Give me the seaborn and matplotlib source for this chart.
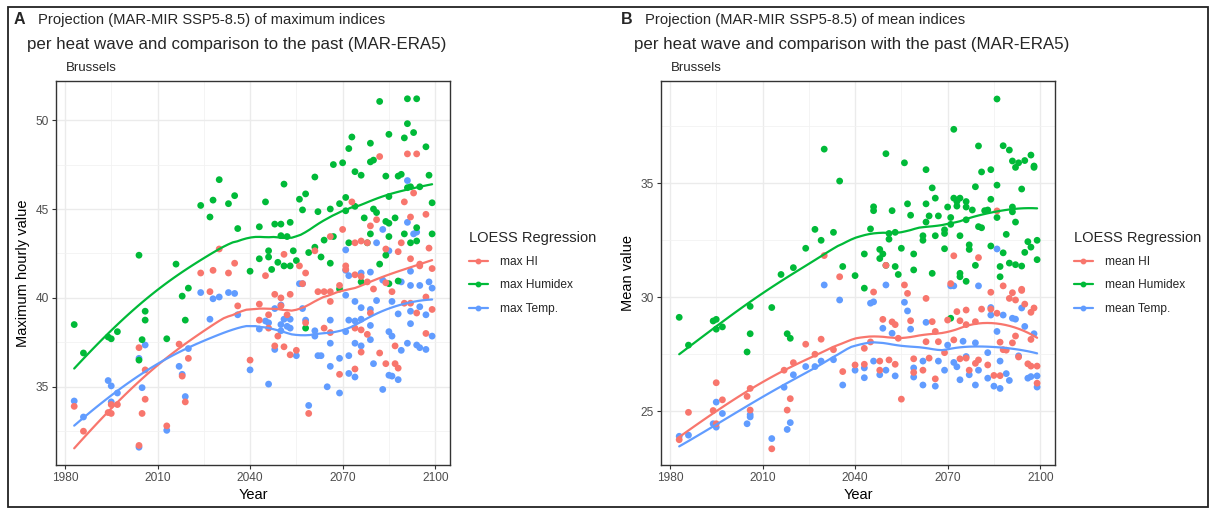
import numpy as np
import pandas as pd
import matplotlib
matplotlib.use("Agg")
import matplotlib.pyplot as plt
import seaborn as sns
from matplotlib.lines import Line2D
from matplotlib.patches import Rectangle
from matplotlib.ticker import FixedLocator

sns.set_theme(style="whitegrid")
plt.rcParams['font.family'] = ['Liberation Sans', 'DejaVu Sans']

RED = "#F8766D"
GREEN = "#00BA38"
BLUE = "#619CFF"

# ---------------- Panel A : maximum indices ----------------
a_hum_year = [1983, 1986, 1994, 1995, 1997, 2004, 2004, 2005, 2006, 2006, 2013, 2016, 2018, 2019, 2020,
              2024, 2027, 2028, 2030, 2033, 2035, 2036, 2040, 2043, 2043, 2045, 2046, 2046, 2047, 2048,
              2049, 2050, 2050, 2051, 2051, 2052, 2053, 2053, 2054, 2055, 2056, 2057, 2058, 2058, 2059,
              2061, 2061, 2062, 2063, 2064, 2066, 2066, 2067, 2067, 2069, 2069, 2070, 2071, 2071, 2072,
              2072, 2073, 2074, 2074, 2076, 2076, 2077, 2078, 2079, 2079, 2079, 2080, 2080, 2081, 2082,
              2082, 2084, 2084, 2084, 2085, 2085, 2085, 2085, 2085, 2087, 2088, 2088, 2089, 2090, 2090,
              2091, 2091, 2091, 2092, 2092, 2093, 2094, 2094, 2094, 2095, 2097, 2098, 2099, 2099]
a_hum_val = [38.5, 36.9, 37.8, 37.7, 38.1, 42.4, 36.5, 37.65, 39.25, 38.75, 37.7, 41.9, 40.1, 38.75, 40.55,
             45.2, 44.55, 45.5, 46.65, 45.3, 45.75, 43.9, 41.5, 44.0, 42.2, 45.4, 42.65, 42.3, 41.6, 44.15,
             42.0, 44.15, 43.5, 46.4, 41.8, 43.45, 44.25, 41.8, 42.65, 42.1, 45.55, 44.95, 45.85, 38.3, 42.55,
             46.8, 42.85, 44.85, 42.3, 43.25, 45.0, 41.95, 47.5, 43.45, 45.3, 40.5, 47.6, 44.9, 45.65, 48.4,
             43.1, 49.05, 47.1, 45.15, 46.9, 40.9, 44.5, 43.1, 48.7, 47.65, 43.6, 45.0, 47.75, 44.8, 51.05,
             41.9, 46.85, 44.3, 42.4, 40.8, 49.2, 45.7, 44.2, 43.45, 44.5, 46.85, 40.95, 46.95, 49.0, 43.6,
             51.2, 49.8, 46.2, 46.25, 43.1, 49.3, 51.2, 43.2, 43.95, 46.25, 48.5, 46.9, 43.6, 45.35]

a_hi_year = [1983, 1986, 1994, 1995, 1995, 1997, 2004, 2004, 2005, 2006, 2006, 2013, 2017, 2018, 2019, 2020,
             2024, 2027, 2028, 2030, 2033, 2035, 2036, 2040, 2043, 2043, 2045, 2046, 2046, 2048, 2048,
             2049, 2050, 2050, 2051, 2051, 2052, 2053, 2053, 2055, 2056, 2057, 2058, 2058, 2059, 2061,
             2062, 2064, 2064, 2066, 2066, 2066, 2066, 2069, 2069, 2070, 2071, 2071, 2073, 2074, 2074,
             2074, 2074, 2076, 2076, 2076, 2076, 2078, 2078, 2078, 2079, 2079, 2080, 2081, 2082, 2082,
             2084, 2084, 2084, 2086, 2087, 2087, 2088, 2088, 2089, 2090, 2090, 2091, 2092, 2092, 2092,
             2093, 2094, 2094, 2095, 2095, 2097, 2097, 2097, 2098, 2099, 2099]
a_hi_val = [33.9, 32.5, 33.55, 34.0, 33.5, 34.0, 37.2, 31.7, 33.5, 35.95, 34.3, 32.8, 37.4, 35.6, 34.15, 36.6,
            41.4, 40.35, 41.55, 42.75, 41.4, 41.95, 39.55, 36.5, 39.65, 38.75, 41.25, 39.05, 38.3, 40.2, 37.3,
            37.85, 40.0, 39.55, 42.45, 37.25, 39.05, 40.2, 36.8, 37.05, 41.8, 40.8, 41.4, 38.6, 33.5, 42.65,
            40.35, 40.35, 38.3, 43.45, 40.35, 39.8, 38.05, 40.7, 35.7, 43.85, 41.8, 41.6, 45.4, 43.1, 41.3,
            38.3, 36.0, 43.2, 41.2, 38.2, 36.95, 43.1, 40.9, 37.95, 44.05, 39.15, 40.5, 44.4, 47.95, 36.9,
            42.75, 40.85, 36.3, 40.35, 37.3, 36.3, 42.6, 36.05, 43.1, 45.4, 39.7, 48.1, 44.55, 42.2, 39.7,
            45.9, 48.1, 39.15, 41.9, 41.8, 44.7, 40.05, 38.0, 42.8, 41.65, 39.35]

a_temp_year = [1983, 1986, 1994, 1995, 1995, 1997, 2004, 2004, 2005, 2006, 2013, 2017, 2018, 2019, 2020,
               2024, 2027, 2028, 2030, 2033, 2035, 2036, 2040, 2043, 2045, 2046, 2046, 2048, 2048, 2050,
               2050, 2050, 2051, 2052, 2053, 2053, 2055, 2056, 2057, 2057, 2058, 2059, 2061, 2061, 2062,
               2063, 2065, 2066, 2066, 2066, 2069, 2069, 2071, 2071, 2071, 2071, 2072, 2072, 2072, 2072,
               2074, 2074, 2074, 2074, 2076, 2076, 2076, 2076, 2079, 2079, 2079, 2079, 2080, 2081, 2081,
               2083, 2083, 2083, 2085, 2085, 2085, 2086, 2086, 2086, 2088, 2088, 2089, 2089, 2091, 2091,
               2091, 2092, 2092, 2092, 2092, 2093, 2094, 2094, 2095, 2095, 2095, 2097, 2097, 2098, 2099, 2099]
a_temp_val = [34.2, 33.3, 35.35, 35.05, 34.15, 34.65, 36.6, 31.6, 34.95, 37.35, 32.55, 36.15, 35.7, 34.45, 37.15,
              40.3, 38.8, 39.95, 40.05, 40.3, 40.25, 39.05, 35.95, 38.25, 38.7, 38.6, 35.15, 39.4, 37.1, 39.6,
              38.5, 38.15, 38.8, 38.4, 38.8, 38.3, 36.75, 40.8, 40.8, 39.4, 38.75, 33.95, 38.15, 37.85, 36.75,
              36.75, 35.0, 38.75, 37.45, 36.15, 36.6, 34.65, 42.7, 41.55, 40.15, 38.1, 41.25, 38.75, 36.75, 35.75,
              39.8, 38.7, 37.45, 35.55, 41.4, 39.45, 38.8, 37.3, 41.45, 39.35, 38.45, 37.65, 36.3, 43.1, 39.85,
              43.85, 41.0, 34.85, 42.65, 38.1, 35.65, 39.8, 37.85, 35.6, 39.1, 35.4, 40.9, 37.05, 46.6, 44.25,
              37.45, 41.5, 40.7, 39.25, 38.55, 43.6, 43.7, 37.35, 40.7, 39.5, 37.2, 39.05, 37.1, 40.9, 40.55, 37.85]

# ---------------- Panel B : mean indices ----------------
b_hum_year = [1983, 1986, 1994, 1995, 1995, 1997, 2005, 2006, 2006, 2013, 2016, 2018, 2019, 2020,
              2024, 2027, 2029, 2030, 2033, 2035, 2036, 2040, 2043, 2043, 2045, 2046, 2046, 2048, 2048,
              2049, 2050, 2050, 2051, 2051, 2052, 2053, 2053, 2054, 2055, 2056, 2057, 2058, 2059, 2059,
              2062, 2062, 2063, 2063, 2063, 2064, 2065, 2065, 2066, 2066, 2067, 2069, 2069, 2069, 2070,
              2071, 2071, 2071, 2072, 2072, 2073, 2073, 2074, 2074, 2074, 2074, 2076, 2076, 2076, 2076,
              2077, 2078, 2077, 2079, 2079, 2080, 2080, 2081, 2081, 2082, 2083, 2084, 2084, 2084, 2086,
              2086, 2086, 2087, 2087, 2088, 2088, 2089, 2090, 2090, 2091, 2091, 2091, 2092, 2092, 2092,
              2093, 2094, 2094, 2095, 2095, 2096, 2097, 2097, 2098, 2098, 2099, 2099]
b_hum_val = [29.12, 27.9, 28.96, 29.03, 28.6, 28.7, 27.6, 29.6, 28.4, 29.55, 31.0, 28.4, 28.2, 31.3,
             32.15, 32.98, 32.5, 36.5, 32.85, 35.1, 31.35, 30.95, 31.9, 30.4, 33.0, 33.97, 33.8, 32.1, 31.7,
             31.9, 36.3, 31.4, 32.8, 32.55, 33.8, 32.85, 31.35, 31.0, 32.15, 35.9, 34.1, 33.6, 31.9, 31.2,
             32.5, 32.7, 35.6, 34.1, 33.3, 33.57, 34.8, 31.05, 34.35, 32.7, 33.57, 32.13, 32.8, 32.96, 33.96,
             33.5, 33.2, 29.08, 37.37, 34.35, 34.2, 34.0, 34.35, 32.7, 30.9, 31.05, 34.2, 33.96, 33.4, 30.7,
             32.3, 33.83, 32.1, 31.4, 34.85, 36.64, 33.1, 35.5, 33.05, 33.8, 33.83, 35.6, 34.3, 32.25, 38.7,
             34.92, 33.5, 31.35, 30.9, 36.65, 31.95, 32.76, 36.46, 31.5, 33.96, 33.75, 35.98, 33.3, 31.43, 35.7,
             35.9, 34.75, 31.37, 36.0, 31.97, 32.44, 36.24, 32.2, 35.7, 35.76, 32.5, 31.65]

b_hi_year = [1983, 1986, 1994, 1995, 1995, 1997, 2005, 2006, 2006, 2013, 2017, 2018, 2019, 2020,
             2024, 2027, 2029, 2030, 2033, 2035, 2036, 2040, 2043, 2043, 2045, 2046, 2048, 2048, 2049,
             2050, 2051, 2052, 2053, 2053, 2054, 2055, 2056, 2057, 2058, 2059, 2059, 2062, 2063, 2063,
             2064, 2065, 2066, 2066, 2067, 2069, 2070, 2071, 2072, 2072, 2073, 2074, 2074, 2076, 2076,
             2076, 2077, 2079, 2079, 2080, 2080, 2081, 2083, 2084, 2084, 2085, 2086, 2086, 2087, 2087,
             2088, 2088, 2089, 2090, 2091, 2091, 2092, 2092, 2093, 2094, 2094, 2095, 2096, 2097, 2097,
             2097, 2098, 2099, 2099]
b_hi_val = [23.75, 24.95, 25.03, 26.25, 24.45, 25.5, 25.65, 26.0, 25.05, 23.35, 26.8, 25.05, 25.55, 27.13,
            27.94, 27.5, 28.16, 31.83, 27.7, 30.9, 26.74, 27.03, 27.76, 27.06, 28.04, 30.23, 27.2, 26.8, 29.03,
            31.4, 27.25, 28.92, 28.8, 27.06, 28.2, 25.53, 30.54, 30.17, 28.97, 27.3, 26.7, 26.8, 29.95, 28.05,
            27.33, 28.93, 28.5, 26.42, 28.05, 27.57, 29.0, 30.6, 31.82, 28.13, 29.37, 28.97, 27.3, 29.44, 28.8,
            27.33, 26.8, 28.93, 27.1, 27.25, 31.74, 29.48, 27.03, 30.22, 29.48, 26.57, 29.3, 33.79, 28.03, 26.56,
            27.7, 30.5, 27.68, 29.95, 30.2, 28.0, 29.88, 28.3, 27.38, 30.35, 30.3, 29.7, 27.08, 29.34, 28.15,
            26.98, 29.53, 26.98, 26.23]

b_temp_year = [1983, 1986, 1994, 1995, 1995, 1997, 2005, 2006, 2006, 2013, 2017, 2018, 2019, 2020,
               2024, 2027, 2029, 2030, 2033, 2035, 2036, 2040, 2043, 2043, 2045, 2046, 2046, 2048, 2049,
               2050, 2050, 2052, 2053, 2056, 2057, 2058, 2059, 2059, 2062, 2062, 2063, 2066, 2067, 2069,
               2070, 2071, 2072, 2072, 2073, 2074, 2075, 2076, 2077, 2079, 2079, 2080, 2080, 2083, 2083,
               2084, 2084, 2085, 2086, 2086, 2087, 2087, 2088, 2089, 2090, 2091, 2092, 2093, 2094, 2095,
               2096, 2097, 2098, 2099, 2099]
b_temp_val = [23.9, 23.95, 24.45, 25.4, 24.3, 24.9, 24.45, 24.85, 24.75, 23.8, 26.05, 24.2, 24.5, 26.6,
              26.96, 26.96, 27.2, 30.54, 27.26, 29.88, 26.15, 26.8, 26.9, 26.47, 29.74, 27.2, 29.8, 26.6, 28.64,
              30.54, 26.8, 28.42, 26.55, 29.78, 29.4, 28.6, 26.9, 26.5, 27.2, 26.15, 28.9, 26.1, 27.2, 26.8,
              27.9, 30.5, 30.5, 27.14, 26.95, 26.38, 28.07, 27.4, 26.6, 26.15, 28.0, 30.5, 26.8, 27.57, 26.45,
              29.22, 29.55, 26.1, 28.5, 32.12, 27.2, 26.0, 29.22, 26.65, 26.35, 29.08, 29.04, 27.43, 29.53, 28.72,
              26.45, 26.52, 28.4, 26.55, 26.06]

W, H = 1214, 509
fig = plt.figure(figsize=(W / 100, H / 100), dpi=100)


def loess(x, y, xs, span=0.75):
    x = np.asarray(x, float)
    y = np.asarray(y, float)
    n = len(x)
    q = int(np.floor(span * n))
    out = []
    for x0 in xs:
        d = np.abs(x - x0)
        h = np.sort(d)[q - 1]
        w = np.clip(1 - (d / h) ** 3, 0, None) ** 3
        X = np.vstack([np.ones(n), x - x0, (x - x0) ** 2]).T
        sw = np.sqrt(w)
        beta = np.linalg.lstsq(X * sw[:, None], y * sw, rcond=None)[0]
        out.append(beta[0])
    return np.array(out)


def ax_rect(l, t, r, b):
    return [l / W, 1 - b / H, (r - l) / W, (b - t) / H]


def panel(rect, series, ylabel, ylim, yticks, yminor, labels, letter, title1, title2, tx):
    ax = fig.add_axes(ax_rect(*rect))
    for (yrs, vals, col) in series[::-1]:
        df = pd.DataFrame({"Year": yrs, "v": vals})
        sns.scatterplot(data=df, x="Year", y="v", color=col, s=24, edgecolor="none",
                        linewidth=0, ax=ax, legend=False, zorder=3)
    for (yrs, vals, col) in series:
        xs = np.linspace(min(yrs), max(yrs), 80)
        ys = loess(yrs, vals, xs)
        sns.lineplot(x=xs, y=ys, color=col, lw=1.6, ax=ax, zorder=4, legend=False)
    ax.set_xlim(1977.1, 2104.8)
    ax.set_ylim(*ylim)
    ax.set_xticks([1980, 2010, 2040, 2070, 2100])
    ax.set_yticks(yticks)
    ax.xaxis.set_minor_locator(FixedLocator([1995, 2025, 2055, 2085]))
    ax.yaxis.set_minor_locator(FixedLocator(yminor))
    ax.grid(which="major", color="#EBEBEB", lw=1.0)
    ax.grid(which="minor", color="#F2F2F2", lw=0.6)
    ax.set_axisbelow(True)
    for s in ax.spines.values():
        s.set_color("#333333")
        s.set_linewidth(1.0)
    ax.tick_params(axis="both", which="major", length=3, width=0.8, color="#333333",
                   labelcolor="#4D4D4D", labelsize=8.6, pad=2, bottom=True, left=True)
    ax.tick_params(which="minor", length=0)
    ax.set_xlabel("Year", fontsize=10.5, color="black", labelpad=3)
    ax.set_ylabel(ylabel, fontsize=10.5, color="black", labelpad=4)
    # legend
    handles = [Line2D([0], [0], color=c, lw=1.6, marker="o", markersize=3.2) for (_, _, c) in series]
    leg = ax.legend(handles, labels, title="LOESS Regression", loc="upper left",
                    bbox_to_anchor=((rect[2] + 14) / W, 1 - 226 / H), bbox_transform=fig.transFigure,
                    frameon=False, fontsize=8.6, title_fontsize=10.5, handlelength=1.6,
                    handletextpad=1.0, labelspacing=0.95, borderaxespad=0)
    leg._legend_box.align = "left"
    # titles
    fig.text(tx / W, 1 - 20 / H, letter, fontsize=11.5, fontweight="bold", va="center", ha="left")
    fig.text((tx + 24) / W, 1 - 20 / H, title1, fontsize=10.6, va="center", ha="left")
    fig.text((tx + 13) / W, 1 - 44 / H, title2, fontsize=12.2, va="center", ha="left")
    fig.text((rect[0] + 10) / W, 1 - 68 / H, "Brussels", fontsize=9.5, va="center", ha="left")
    return ax


panel((56, 81, 450, 465),
      [(a_hi_year, a_hi_val, RED), (a_hum_year, a_hum_val, GREEN), (a_temp_year, a_temp_val, BLUE)],
      "Maximum hourly value", (30.6, 52.2), [35, 40, 45, 50], [32.5, 37.5, 42.5, 47.5, 52.5],
      ["max HI", "max Humidex", "max Temp."], "A",
      "Projection (MAR-MIR SSP5-8.5) of maximum indices",
      "per heat wave and comparison to the past (MAR-ERA5)", 14)

panel((661, 81, 1055, 465),
      [(b_hi_year, b_hi_val, RED), (b_hum_year, b_hum_val, GREEN), (b_temp_year, b_temp_val, BLUE)],
      "Mean value", (22.64, 39.49), [25, 30, 35], [22.5, 27.5, 32.5, 37.5],
      ["mean HI", "mean Humidex", "mean Temp."], "B",
      "Projection (MAR-MIR SSP5-8.5) of mean indices",
      "per heat wave and comparison with the past (MAR-ERA5)", 621)

fig.patches.append(Rectangle((8 / W, 2 / H), 1200 / W, 500 / H, transform=fig.transFigure,
                             fill=False, edgecolor="#222222", lw=1.3))

fig.savefig("out.png", dpi=100)
